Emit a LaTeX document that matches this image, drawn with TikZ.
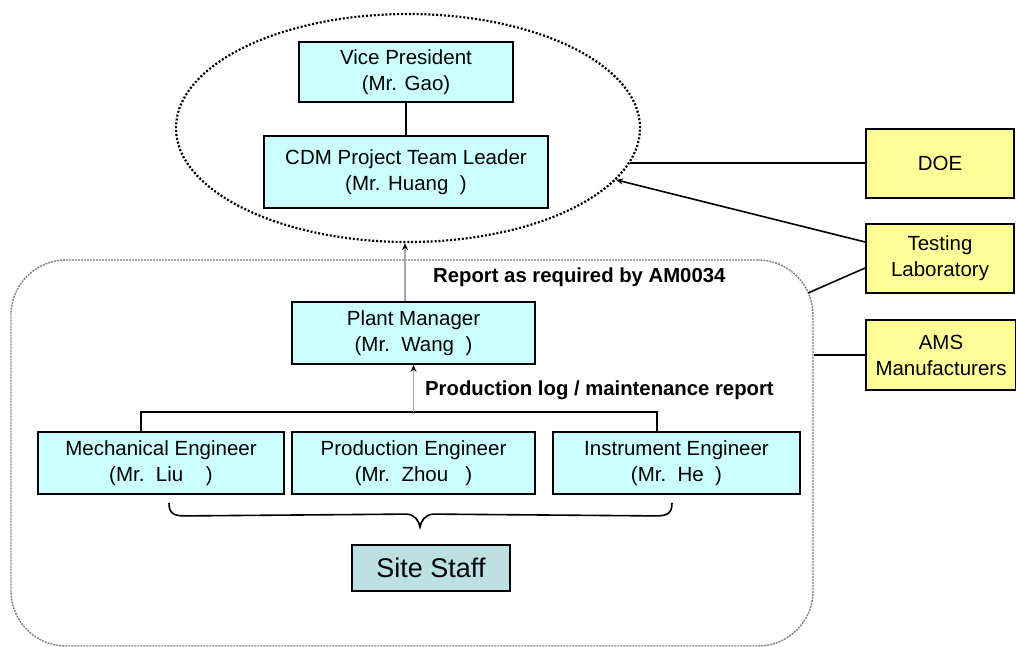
\documentclass[tikz,border=0pt]{standalone}
\usepackage{fontspec}
\setmainfont{Liberation Sans}
\usetikzlibrary{shapes.geometric,arrows.meta,calc}
\definecolor{boxcyan}{HTML}{CCFFFF}
\definecolor{boxyellow}{HTML}{FFFF99}
\definecolor{staffteal}{HTML}{BDE1E3}
\definecolor{flowgray}{HTML}{A8A8A8}
\tikzset{
  orgbox/.style={draw=black, line width=1.8pt, fill=boxcyan, align=center, inner sep=0pt,
    font=\fontsize{20.5}{26}\selectfont},
  extbox/.style={orgbox, fill=boxyellow},
  staffbox/.style={orgbox, fill=staffteal, font=\fontsize{27}{32}\selectfont},
  flowlabel/.style={anchor=west, inner sep=0pt, font=\bfseries\fontsize{20.3}{24}\selectfont},
  conn/.style={line width=1.6pt, black},
  grayflow/.style={line width=1.6pt, flowgray, -{Stealth[length=7pt,width=6pt,color=black]}},
  blackflow/.style={line width=1.6pt, black, -{Stealth[length=7pt,width=6pt]}},
}
\begin{document}
\begin{tikzpicture}[x=1pt,y=-1pt]
\useasboundingbox (0,0) rectangle (1016,646);
\clip (0,0) rectangle (1016,646);
% group outlines
\node[draw=black, line width=2.2pt, dash pattern=on 2pt off 1.9pt, ellipse, inner sep=0pt,
      minimum width=464, minimum height=228] (ell) at (408,128) {};
\node[draw=gray, line width=1.4pt, dash pattern=on 2pt off 1pt, rectangle, rounded corners=55pt,
      inner sep=0pt, minimum width=802, minimum height=386] (grp) at (412,453) {};
% boxes
\node[orgbox, minimum width=214, minimum height=60] (VP) at (406,72) {Vice President\\(Mr. Gao)};
\node[orgbox, minimum width=284, minimum height=72] (CDM) at (406,172) {CDM Project Team Leader\\(Mr. Huang\ \ )};
\node[extbox, minimum width=148, minimum height=69] (DOE) at (940,163.5) {DOE};
\node[extbox, minimum width=148, minimum height=69] (TL) at (940,258.5) {Testing\\Laboratory};
\node[extbox, minimum width=150, minimum height=70] (AMS) at (941,355) {AMS\\Manufacturers};
\node[orgbox, minimum width=243, minimum height=62] (PM) at (413.5,333) {Plant Manager\\(Mr.\ \ Wang\ \ )};
\node[orgbox, minimum width=246, minimum height=62] (ME) at (161,463) {Mechanical Engineer\\(Mr.\ \ Liu\ \ \ \ )};
\node[orgbox, minimum width=243, minimum height=62] (PE) at (413.5,463) {Production Engineer\\(Mr.\ \ Zhou\ \ \ )};
\node[orgbox, minimum width=247, minimum height=62] (IE) at (676.5,463) {Instrument Engineer\\(Mr.\ \ He\ \ )};
\node[staffbox, minimum width=158, minimum height=46] (SS) at (431,568) {Site Staff};
% labels
\node[flowlabel] (lblreport) at (433,277) {Report as required by AM0034};
\node[flowlabel] (lblprod) at (425,390) {Production log / maintenance report};
% connectors
\draw[conn] (VP.south) -- (CDM.north);
\draw[conn] (ell.-9.3) -- (ell.-9.3 -| DOE.west);
\draw[blackflow] ($(TL.west)+(0,-16.5)$) -- (ell.-14.4);
\coordinate (gc) at (808,293);
\draw[conn] ($(TL.west)+(0,9.5)$) -- (gc);
\draw[conn] (AMS.west) -- (AMS.west -| grp.east);
% bracket over engineers
\coordinate (brL) at ($(ME.north)+(-20,-19)$);
\coordinate (brR) at ($(IE.north)+(-19.5,-19)$);
\coordinate (brM) at (PM.south |- brL);
\draw[conn, line width=1.5pt] (brL |- ME.north) -- (brL) -- (brR) -- (brR |- IE.north);
\draw[grayflow] (brM) -- (PM.south);
\coordinate (rp) at ($(PM.north)+(-8.5,0)$);
\draw[grayflow] (rp) -- (rp |- ell.south);
% curly brace
\coordinate (cbL) at ($(ME.south)+(8,8)$);
\coordinate (cbR) at ($(IE.south)+(-4.5,8)$);
\coordinate (cbT) at ($(SS.north)+(-11,-17)$);
\draw[line width=1.6pt, black]
  (cbL) .. controls ($(cbL)+(0,10)$) and ($(cbL)+(4,13)$) .. ($(cbL)+(16,13)$)
  -- ($(cbT)+(-14,-13)$)
  .. controls ($(cbT)+(-5,-13)$) and ($(cbT)+(-1,-6)$) .. (cbT)
  .. controls ($(cbT)+(1,-6)$) and ($(cbT)+(5,-13)$) .. ($(cbT)+(14,-13)$)
  -- ($(cbR)+(-16,13)$)
  .. controls ($(cbR)+(-4,13)$) and ($(cbR)+(0,10)$) .. (cbR);
\end{tikzpicture}
\end{document}
